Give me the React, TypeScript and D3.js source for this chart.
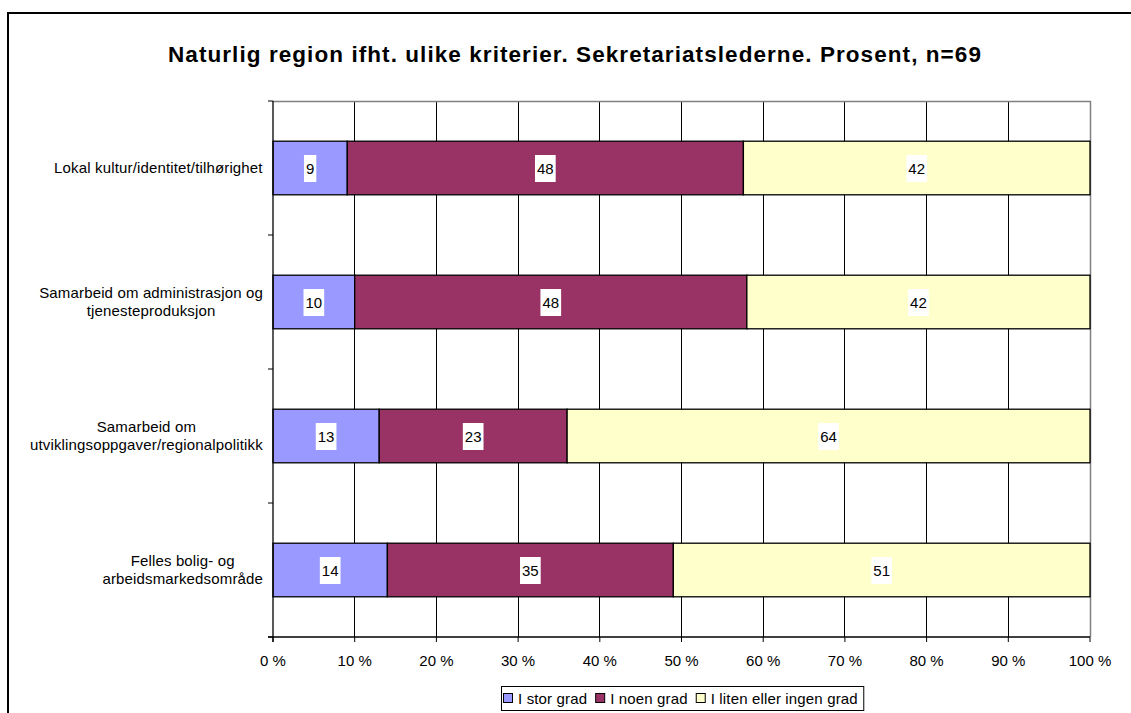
import React, { useEffect, useRef } from "react";
import * as d3 from "d3";

const categories = [
  "Lokal kultur/identitet/tilhørighet",
  "Samarbeid om administrasjon og\ntjenesteproduksjon",
  "Samarbeid om\nutviklingsoppgaver/regionalpolitikk",
  "Felles bolig- og\narbeidsmarkedsområde",
];
const seriesNames = ["I stor grad", "I noen grad", "I liten eller ingen grad"];
const storGrad = [9, 10, 13, 14];
const noenGrad = [48, 48, 23, 35];
const litenGrad = [42, 42, 64, 51];
const colors = ["#9999FF", "#993366", "#FFFFCC"];
const xTicks = [0, 10, 20, 30, 40, 50, 60, 70, 80, 90, 100];

const App = () => {
  const ref = useRef<SVGSVGElement>(null);

  useEffect(() => {
    const svg = d3.select(ref.current);
    svg.selectAll("*").remove();

    const width = 1131;
    const height = 713;
    const margin = { top: 101, right: 41, bottom: 76, left: 273 };
    const font = "'Liberation Sans', Arial, sans-serif";
    const fs = 15;

    svg.attr("width", width).attr("height", height).style("font-family", font);

    // outer frame
    svg.append("rect")
      .attr("x", 8).attr("y", 13)
      .attr("width", 1140).attr("height", 720)
      .attr("fill", "white").attr("stroke", "black").attr("stroke-width", 2);

    // title, stretched to the reference width
    const title = svg.append("text")
      .attr("x", 575).attr("y", 61.5)
      .attr("text-anchor", "middle")
      .attr("font-size", 22.5).attr("font-weight", "bold")
      .text("Naturlig region ifht. ulike kriterier. Sekretariatslederne. Prosent, n=69");
    const tw = (title.node() as SVGTextElement).getComputedTextLength();
    const nch = title.text().length;
    title.attr("letter-spacing", Math.max(0, (814 - tw) / nch));

    const rows = categories.map((c, i) => {
      const vals = [storGrad[i], noenGrad[i], litenGrad[i]];
      const total = d3.sum(vals);
      let acc = 0;
      const segs = vals.map((v, k) => {
        const s = { k, v, x0: (acc / total) * 100, x1: ((acc + v) / total) * 100 };
        acc += v;
        return s;
      });
      return { c, i, segs };
    });

    const x = d3.scaleLinear().domain([0, 100]).range([margin.left, width - margin.right]);
    const y = d3.scaleBand<number>()
      .domain(d3.range(categories.length))
      .range([margin.top, height - margin.bottom])
      .paddingInner(0.6).paddingOuter(0.3);
    const step = y.step();
    const y0 = margin.top, y1 = height - margin.bottom;

    // gridlines
    svg.append("g").selectAll("line")
      .data(xTicks.slice(1, -1))
      .enter().append("line")
      .attr("x1", d => x(d)).attr("x2", d => x(d))
      .attr("y1", y0).attr("y2", y1)
      .attr("stroke", "black").attr("stroke-width", 1).attr("shape-rendering", "crispEdges");

    // plot frame top/right (grey)
    svg.append("path")
      .attr("d", `M${x(0)},${y0 + 0.5}H${x(100) + 0.5}V${y1}`)
      .attr("fill", "none").attr("stroke", "#808080").attr("stroke-width", 1.5);

    // bars
    const g = svg.append("g");
    rows.forEach(r => {
      r.segs.forEach(s => {
        g.append("rect")
          .attr("x", x(s.x0)).attr("y", y(r.i)!)
          .attr("width", x(s.x1) - x(s.x0)).attr("height", y.bandwidth())
          .attr("fill", colors[s.k]).attr("stroke", "black").attr("stroke-width", 1.3);
      });
    });

    // y axis
    svg.append("line")
      .attr("x1", x(0)).attr("x2", x(0)).attr("y1", y0).attr("y2", y1 + 5)
      .attr("stroke", "black").attr("stroke-width", 1.3);
    d3.range(categories.length + 1).forEach(k => {
      svg.append("line")
        .attr("x1", x(0) - 5).attr("x2", x(0))
        .attr("y1", y0 + k * step).attr("y2", y0 + k * step)
        .attr("stroke", "black").attr("stroke-width", 1);
    });

    // x axis
    svg.append("line")
      .attr("x1", x(0) - 5).attr("x2", x(100)).attr("y1", y1).attr("y2", y1)
      .attr("stroke", "black").attr("stroke-width", 1.3);
    const xt = svg.append("g");
    xTicks.forEach(t => {
      xt.append("line")
        .attr("x1", x(t)).attr("x2", x(t)).attr("y1", y1).attr("y2", y1 + 5)
        .attr("stroke", "black");
      xt.append("text")
        .attr("x", x(t)).attr("y", y1 + 29)
        .attr("text-anchor", "middle").attr("font-size", fs)
        .text(`${t} %`);
    });

    // category labels
    rows.forEach(r => {
      const lines = r.c.split("\n");
      const cy = y(r.i)! + y.bandwidth() / 2;
      const t = svg.append("text")
        .attr("font-size", fs).attr("text-anchor", "middle")
        .attr("letter-spacing", 0.15);
      lines.forEach((l, li) => {
        t.append("tspan")
          .attr("x", 0)
          .attr("y", cy + (li - (lines.length - 1) / 2) * 18 + 5)
          .text(l);
      });
      const w = (t.node() as SVGTextElement).getBBox().width;
      t.attr("transform", `translate(${263 - w / 2},0)`);
    });

    // data labels
    rows.forEach(r => {
      r.segs.forEach(s => {
        const cx = (x(s.x0) + x(s.x1)) / 2;
        const cy = y(r.i)! + y.bandwidth() / 2;
        const bg = svg.append("rect").attr("fill", "white");
        const t = svg.append("text")
          .attr("x", cx).attr("y", cy + 5.5)
          .attr("text-anchor", "middle").attr("font-size", fs)
          .text(String(s.v));
        const w = (t.node() as SVGTextElement).getComputedTextLength();
        bg.attr("x", cx - w / 2 - 2).attr("y", cy - 13)
          .attr("width", w + 4).attr("height", 27);
      });
    });

    // legend
    const lg = svg.append("g");
    const box = lg.append("rect")
      .attr("fill", "white").attr("stroke", "black").attr("stroke-width", 1);
    let lx = 503;
    const ly = 698.5;
    seriesNames.forEach((n, k) => {
      lg.append("rect")
        .attr("x", lx + 0.5).attr("y", ly - 5).attr("width", 9).attr("height", 9)
        .attr("fill", colors[k]).attr("stroke", "black").attr("stroke-width", 1);
      const t = lg.append("text")
        .attr("x", lx + 15).attr("y", ly + 5.5)
        .attr("font-size", fs).attr("letter-spacing", 0.15).text(n);
      lx += 15 + (t.node() as SVGTextElement).getComputedTextLength() + 8;
    });
    box.attr("x", 501.5).attr("y", 686.5).attr("width", lx - 8 + 6 - 501.5).attr("height", 24);
  }, []);

  return <svg ref={ref} style={{ position: "absolute", left: 0, top: 0 }}></svg>;
};

export default App;
